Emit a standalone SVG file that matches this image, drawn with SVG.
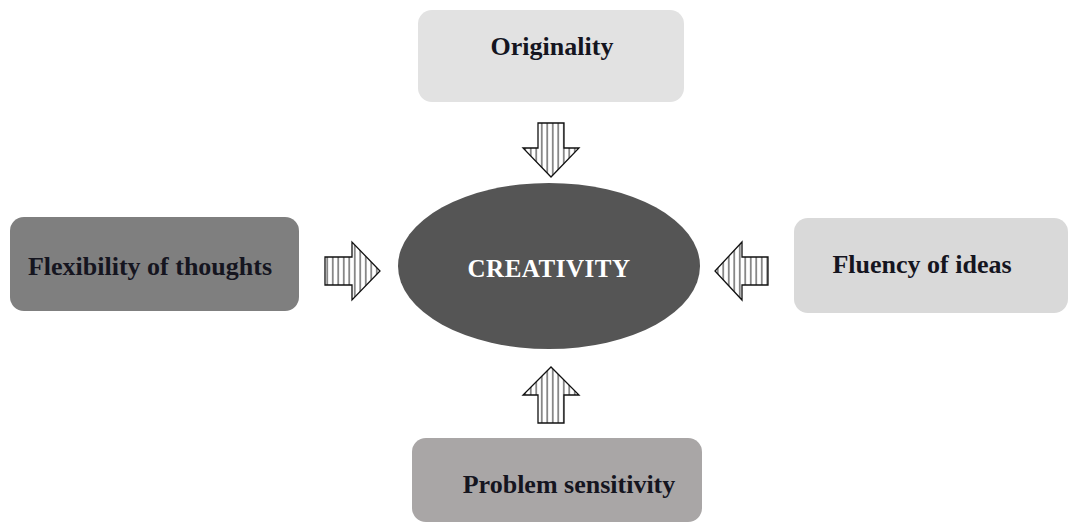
<svg xmlns="http://www.w3.org/2000/svg" width="1072" height="529" viewBox="0 0 1072 529">
<style>
.lbl{font-family:"Liberation Serif","Times New Roman",serif;font-weight:bold;font-size:26px;fill:#15151f;text-anchor:middle}
.arrow{fill:url(#vh);stroke:#111;stroke-width:1.3;stroke-linejoin:miter}
</style>
<defs>
<pattern id="vh" patternUnits="userSpaceOnUse" width="5.5" height="10">
<rect width="5.5" height="10" fill="#fff"/>
<line x1="2.75" y1="0" x2="2.75" y2="10" stroke="#222" stroke-width="1"/>
</pattern>
</defs>
<rect width="1072" height="529" fill="#fff"/>
<g id="originality">
<rect x="418" y="10" width="266" height="92" rx="14" fill="#e2e2e2"/>
<text class="lbl" x="552" y="55">Originality</text>
</g>
<g id="flexibility">
<rect x="10" y="217" width="289" height="94" rx="14" fill="#7f7f7f"/>
<text class="lbl" x="150" y="275">Flexibility of thoughts</text>
</g>
<g id="fluency">
<rect x="794" y="218" width="274" height="95" rx="14" fill="#d9d9d9"/>
<text class="lbl" x="922" y="273">Fluency of ideas</text>
</g>
<g id="problem">
<rect x="412" y="438" width="290" height="84" rx="14" fill="#a9a6a6"/>
<text class="lbl" x="569" y="493">Problem sensitivity</text>
</g>
<g id="creativity">
<ellipse cx="549" cy="266" rx="151" ry="83" fill="#555555"/>
<text class="lbl" x="549" y="277" style="fill:#fff;font-size:25px;letter-spacing:0.5px">CREATIVITY</text>
</g>
<g id="connectors">
<path class="arrow" d="M538,123 H564 V148 H579 L551,177 L523,148 H538 Z"/>
<path class="arrow" d="M538,423 H564 V395 H579 L551,367 L523,395 H538 Z"/>
<path class="arrow" d="M325,257 H352 V242 L380,271 L352,300 V285 H325 Z"/>
<path class="arrow" d="M768,257 H742 V242 L715,271 L742,300 V285 H768 Z"/>
</g>
</svg>
